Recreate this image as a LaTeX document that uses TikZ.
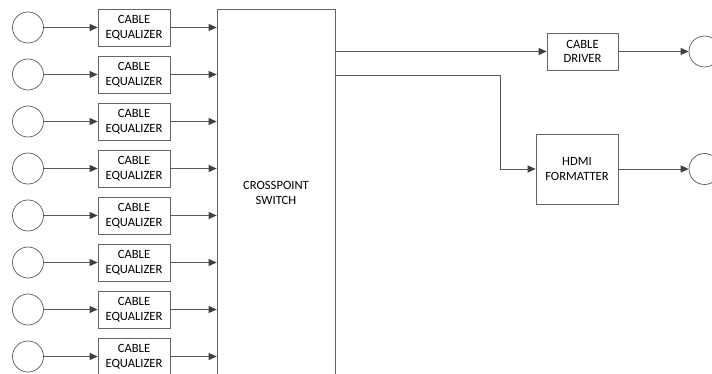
\documentclass[tikz,border=0pt]{standalone}
\usepackage{fontspec}
\setmainfont{Carlito}
\usetikzlibrary{positioning,arrows.meta}

\begin{document}
\begin{tikzpicture}[x=1pt, y=-1pt,
  font=\fontsize{12.6}{14.5}\selectfont,
  blk/.style={draw=black!60, line width=0.7pt, align=center, inner sep=0pt},
  port/.style={draw=black!65, line width=0.7pt, circle, minimum size=31pt, inner sep=0pt},
  wire/.style={draw=black!65, line width=0.7pt, arrows={-Triangle[length=8pt,width=7pt,color=black!75]}}]
\useasboundingbox (0,0) rectangle (712,374);
% crosspoint switch (runs off the bottom)
\node[blk, minimum width=118pt, minimum height=368pt] (xpt) at (276,193) {CROSSPOINT\\SWITCH};
% eight inputs
\foreach \i in {1,...,8} {
  \node[port] (in\i) at (28,{27.5+(\i-1)*47}) {};
  \node[blk, minimum width=72pt, minimum height=37pt] (eq\i) at (134,{27.5+(\i-1)*47}) {CABLE\\EQUALIZER};
  \draw[wire] (in\i) -- (eq\i);
  \draw[wire] (eq\i.east) -- (eq\i.east -| xpt.west);
}
% outputs
\node[blk, minimum width=71pt, minimum height=37pt] (drv) at (582.5,51.5) {CABLE\\DRIVER};
\node[blk, minimum width=82pt, minimum height=70pt] (hdmi) at (577,169) {HDMI\\FORMATTER};
\node[port] (out1) at (704.5,51.5) {};
\node[port] (out2) at (704.5,169) {};
\coordinate (split) at (500,75);
\draw[wire] (drv.west -| xpt.east) -- (drv.west);
\draw[wire] (split -| xpt.east) -- (split) |- (hdmi.west);
\draw[wire] (drv) -- (out1);
\draw[wire] (hdmi) -- (out2);
\end{tikzpicture}
\end{document}
